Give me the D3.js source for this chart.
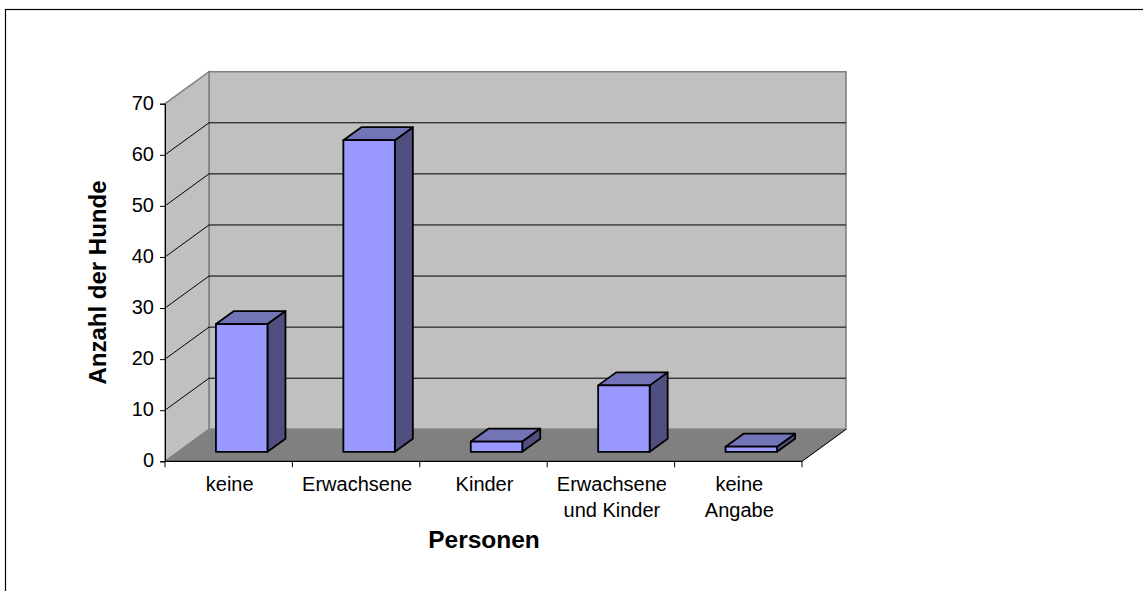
<!DOCTYPE html>
<html><head><meta charset="utf-8">
<script src="https://cdn.jsdelivr.net/npm/d3@7"></script>
<style>html,body{margin:0;padding:0;background:#fff;overflow:hidden}svg{display:block}text{font-family:"Liberation Sans",Arial,sans-serif;fill:#000}</style>
</head><body><svg id="c" width="1143" height="591"></svg>
<script>
const categories = [["keine"],["Erwachsene"],["Kinder"],["Erwachsene","und Kinder"],["keine","Angabe"]];
const values = [25, 61, 2, 13, 1];
const yTicks = [0,10,20,30,40,50,60,70];
const xTitle = "Personen";
const yTitle = "Anzahl der Hunde";

const svg = d3.select("#c");
const x = d3.scaleBand().domain(d3.range(categories.length)).range([165,802]).paddingInner(0).paddingOuter(0);
const y = d3.scaleLinear().domain([0,70]).range([461.3,103.7]);
const D = {x:44,y:-32};
const barD = {x:18,y:-13};
const barOff = {x:13,y:-9.5};
const bw = 51.5;
const L = x.range()[0], R = x.range()[1];
const pts = a => a.map(p=>p.join(",")).join(" ");

svg.append("rect").attr("x",5.5).attr("y",9.5).attr("width",1150).attr("height",600)
  .attr("fill","#fff").attr("stroke","#000").attr("stroke-width",1.2);

// walls
svg.append("polygon").attr("points",pts([[L+D.x,y(70)+D.y],[R+D.x,y(70)+D.y],[R+D.x,y(0)+D.y],[L+D.x,y(0)+D.y]]))
  .attr("fill","#c0c0c0").attr("stroke","#808080").attr("stroke-width",1.6);
svg.append("polygon").attr("points",pts([[L,y(70)],[L+D.x,y(70)+D.y],[L+D.x,y(0)+D.y],[L,y(0)]]))
  .attr("fill","#c0c0c0").attr("stroke","#808080").attr("stroke-width",1.6);
svg.append("polygon").attr("points",pts([[L,y(0)],[L+D.x,y(0)+D.y],[R+D.x,y(0)+D.y],[R,y(0)]]))
  .attr("fill","#808080").attr("stroke","#808080").attr("stroke-width",1);

// gridlines
const gridTicks = yTicks.filter(t=>t>0&&t<70);
svg.append("g").selectAll("polyline").data(gridTicks).join("polyline")
  .attr("points",t=>pts([[L,y(t)],[L+D.x,y(t)+D.y],[R+D.x,y(t)+D.y]]))
  .attr("fill","none").attr("stroke","#000").attr("stroke-width",1);

// bars
const bars = svg.append("g").selectAll("g").data(values).join("g")
  .attr("stroke","#000").attr("stroke-width",1.8).attr("stroke-linejoin","round");
const bx = (d,i)=> x(i)+x.bandwidth()/2-bw/2+barOff.x;
const by0 = y(0)+barOff.y;
const h = d => y(0)-y(d);
bars.append("polygon").attr("fill","#4f4f80").attr("points",(d,i)=>{
  const X=bx(d,i)+bw,T=by0-h(d);
  return pts([[X,by0],[X+barD.x,by0+barD.y],[X+barD.x,T+barD.y],[X,T]]);});
bars.append("polygon").attr("fill","#7373b8").attr("points",(d,i)=>{
  const X=bx(d,i),T=by0-h(d);
  return pts([[X,T],[X+barD.x,T+barD.y],[X+bw+barD.x,T+barD.y],[X+bw,T]]);});
bars.append("rect").attr("fill","#9999ff").attr("x",bx).attr("y",d=>by0-h(d)).attr("width",bw).attr("height",h);

// y axis
const yAxis = d3.axisLeft(y).tickValues(yTicks).tickSize(5).tickPadding(6);
const gy = svg.append("g").attr("transform",`translate(${L},0)`).call(yAxis);
gy.selectAll("text").attr("font-size",20).attr("font-family","Liberation Sans").attr("dy","0.27em");
gy.selectAll("line,path").attr("stroke","#000").attr("stroke-width",1);

// x axis
const gx = svg.append("g").attr("transform",`translate(0,${y(0)})`);
gx.append("line").attr("x1",L).attr("x2",R).attr("stroke","#000").attr("stroke-width",1.2);
gx.selectAll(".t").data(d3.range(categories.length+1)).join("line").attr("class","t")
  .attr("x1",i=>L+i*x.bandwidth()).attr("x2",i=>L+i*x.bandwidth()).attr("y1",0).attr("y2",6).attr("stroke","#000");
const lab = svg.append("g").selectAll("text").data(categories).join("text")
  .attr("text-anchor","middle").attr("font-size",20);
lab.each(function(c,i){
  d3.select(this).selectAll("tspan").data(c).join("tspan")
    .attr("x",x(i)+x.bandwidth()/2+1).attr("y",(d,j)=>491+j*26).text(d=>d);
});

// front-right floor edge
svg.append("line").attr("x1",R).attr("y1",y(0)).attr("x2",R+D.x).attr("y2",y(0)+D.y).attr("stroke","#000").attr("stroke-width",1);

svg.append("text").attr("x",484).attr("y",547.5).attr("text-anchor","middle").attr("font-size",24.5).attr("font-weight","bold").text(xTitle);
svg.append("text").attr("transform","translate(105.5,282.5) rotate(-90)").attr("text-anchor","middle").attr("font-size",24).attr("font-weight","bold").text(yTitle);
</script></body></html>
